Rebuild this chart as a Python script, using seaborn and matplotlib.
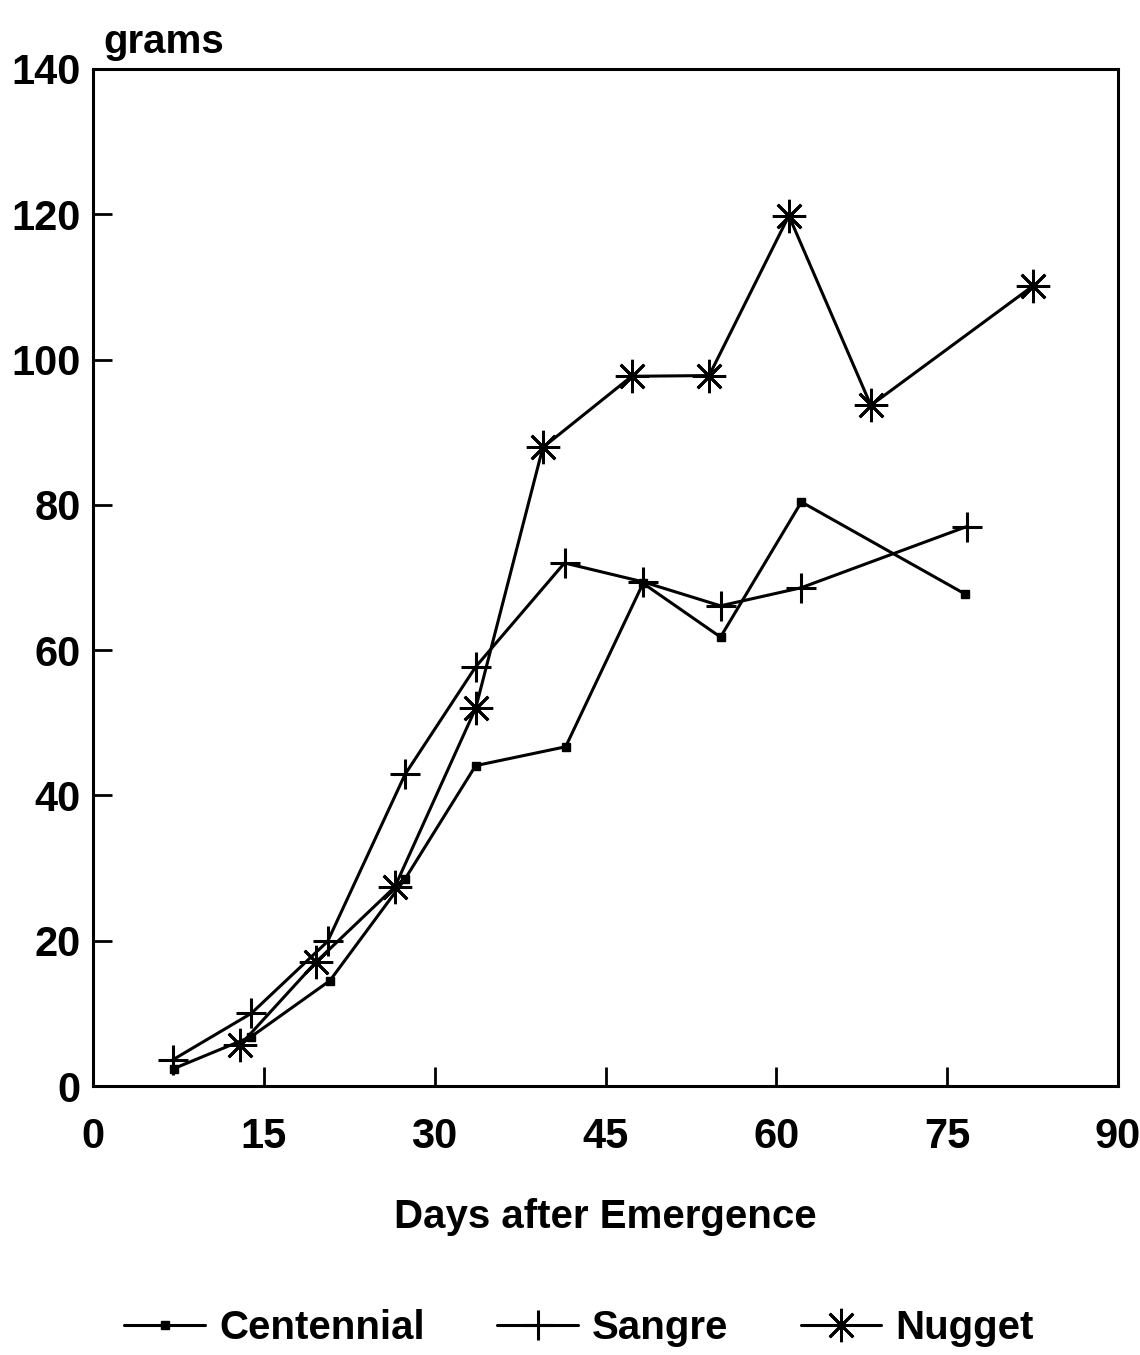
import numpy as np
import pandas as pd
import matplotlib
matplotlib.use("Agg")
import matplotlib.pyplot as plt
import seaborn as sns

# values (days after emergence, grams)
cent_days = [7.1, 13.9, 20.8, 27.4, 33.6, 41.5, 48.3, 55.1, 62.2, 76.6]
cent_grams = [2.4, 6.8, 14.5, 28.5, 44.1, 46.7, 69.2, 61.8, 80.4, 67.7]

sang_days = [7.0, 13.9, 20.6, 27.4, 33.6, 41.4, 48.3, 55.1, 62.2, 76.7]
sang_grams = [3.6, 10.0, 19.9, 42.9, 57.7, 72.0, 69.4, 66.1, 68.6, 77.0]

nug_days = [12.9, 19.6, 26.5, 33.6, 39.5, 47.3, 54.1, 61.1, 68.3, 82.5]
nug_grams = [5.6, 17.1, 27.4, 52.0, 87.9, 97.7, 97.8, 119.8, 93.7, 110.1]

x_ticks = [0, 15, 30, 45, 60, 75, 90]
y_ticks = [0, 20, 40, 60, 80, 100, 120, 140]

series = [
    ("Centennial", cent_days, cent_grams, "s", 6, 1.0),
    ("Sangre", sang_days, sang_grams, "+", 22, 2.2),
    ("Nugget", nug_days, nug_grams, (8, 2, 0), 24, 2.0),
]

sns.set_style("ticks")
plt.rcParams["font.family"] = ["Liberation Sans", "DejaVu Sans"]
plt.rcParams["font.weight"] = "bold"
plt.rcParams["text.color"] = "black"
plt.rcParams["xtick.color"] = "black"
plt.rcParams["ytick.color"] = "black"

fig = plt.figure(figsize=(11.4, 13.55), dpi=100)
ax = fig.add_axes([93 / 1140, 1 - 1086 / 1355, (1118 - 93) / 1140, (1086 - 69) / 1355])

for name, d, g, mk, ms, mew in series:
    df = pd.DataFrame({"days": d, "grams": g})
    sns.lineplot(data=df, x="days", y="grams", ax=ax, color="black", linewidth=2.2,
                 marker=mk, markersize=ms, markeredgewidth=mew, markeredgecolor="black",
                 markerfacecolor="black", label=name, sort=False, legend=False)

ax.set_xlim(0, 90)
ax.set_ylim(0, 140)
ax.set_xticks(x_ticks)
ax.set_yticks(y_ticks)
ax.set_xticklabels([str(t) for t in x_ticks], fontsize=30, fontweight="bold", color="black")
ax.set_yticklabels([str(t) for t in y_ticks], fontsize=30, fontweight="bold", color="black")
ax.tick_params(axis="both", direction="in", length=14, width=2, color="black")
ax.tick_params(axis="x", pad=22)
ax.tick_params(axis="y", pad=9)
for sp in ax.spines.values():
    sp.set_linewidth(2.2)
    sp.set_color("black")

ax.set_xlabel("Days after Emergence", fontsize=29, fontweight="bold", labelpad=30, color="black")
ax.set_ylabel("")
ax.text(0.01, 1.008, "grams", transform=ax.transAxes, fontsize=29, fontweight="bold",
        ha="left", va="bottom", color="black")

handles, labels = ax.get_legend_handles_labels()
fig.legend(handles, labels, loc="center", bbox_to_anchor=(0.508, 1 - 1328 / 1355), ncol=3,
           frameon=False, handlelength=2.0, columnspacing=1.8, handletextpad=0.35,
           prop={"weight": "bold", "size": 29}, labelcolor="black")

fig.savefig("out.png", dpi=100, facecolor="white")
